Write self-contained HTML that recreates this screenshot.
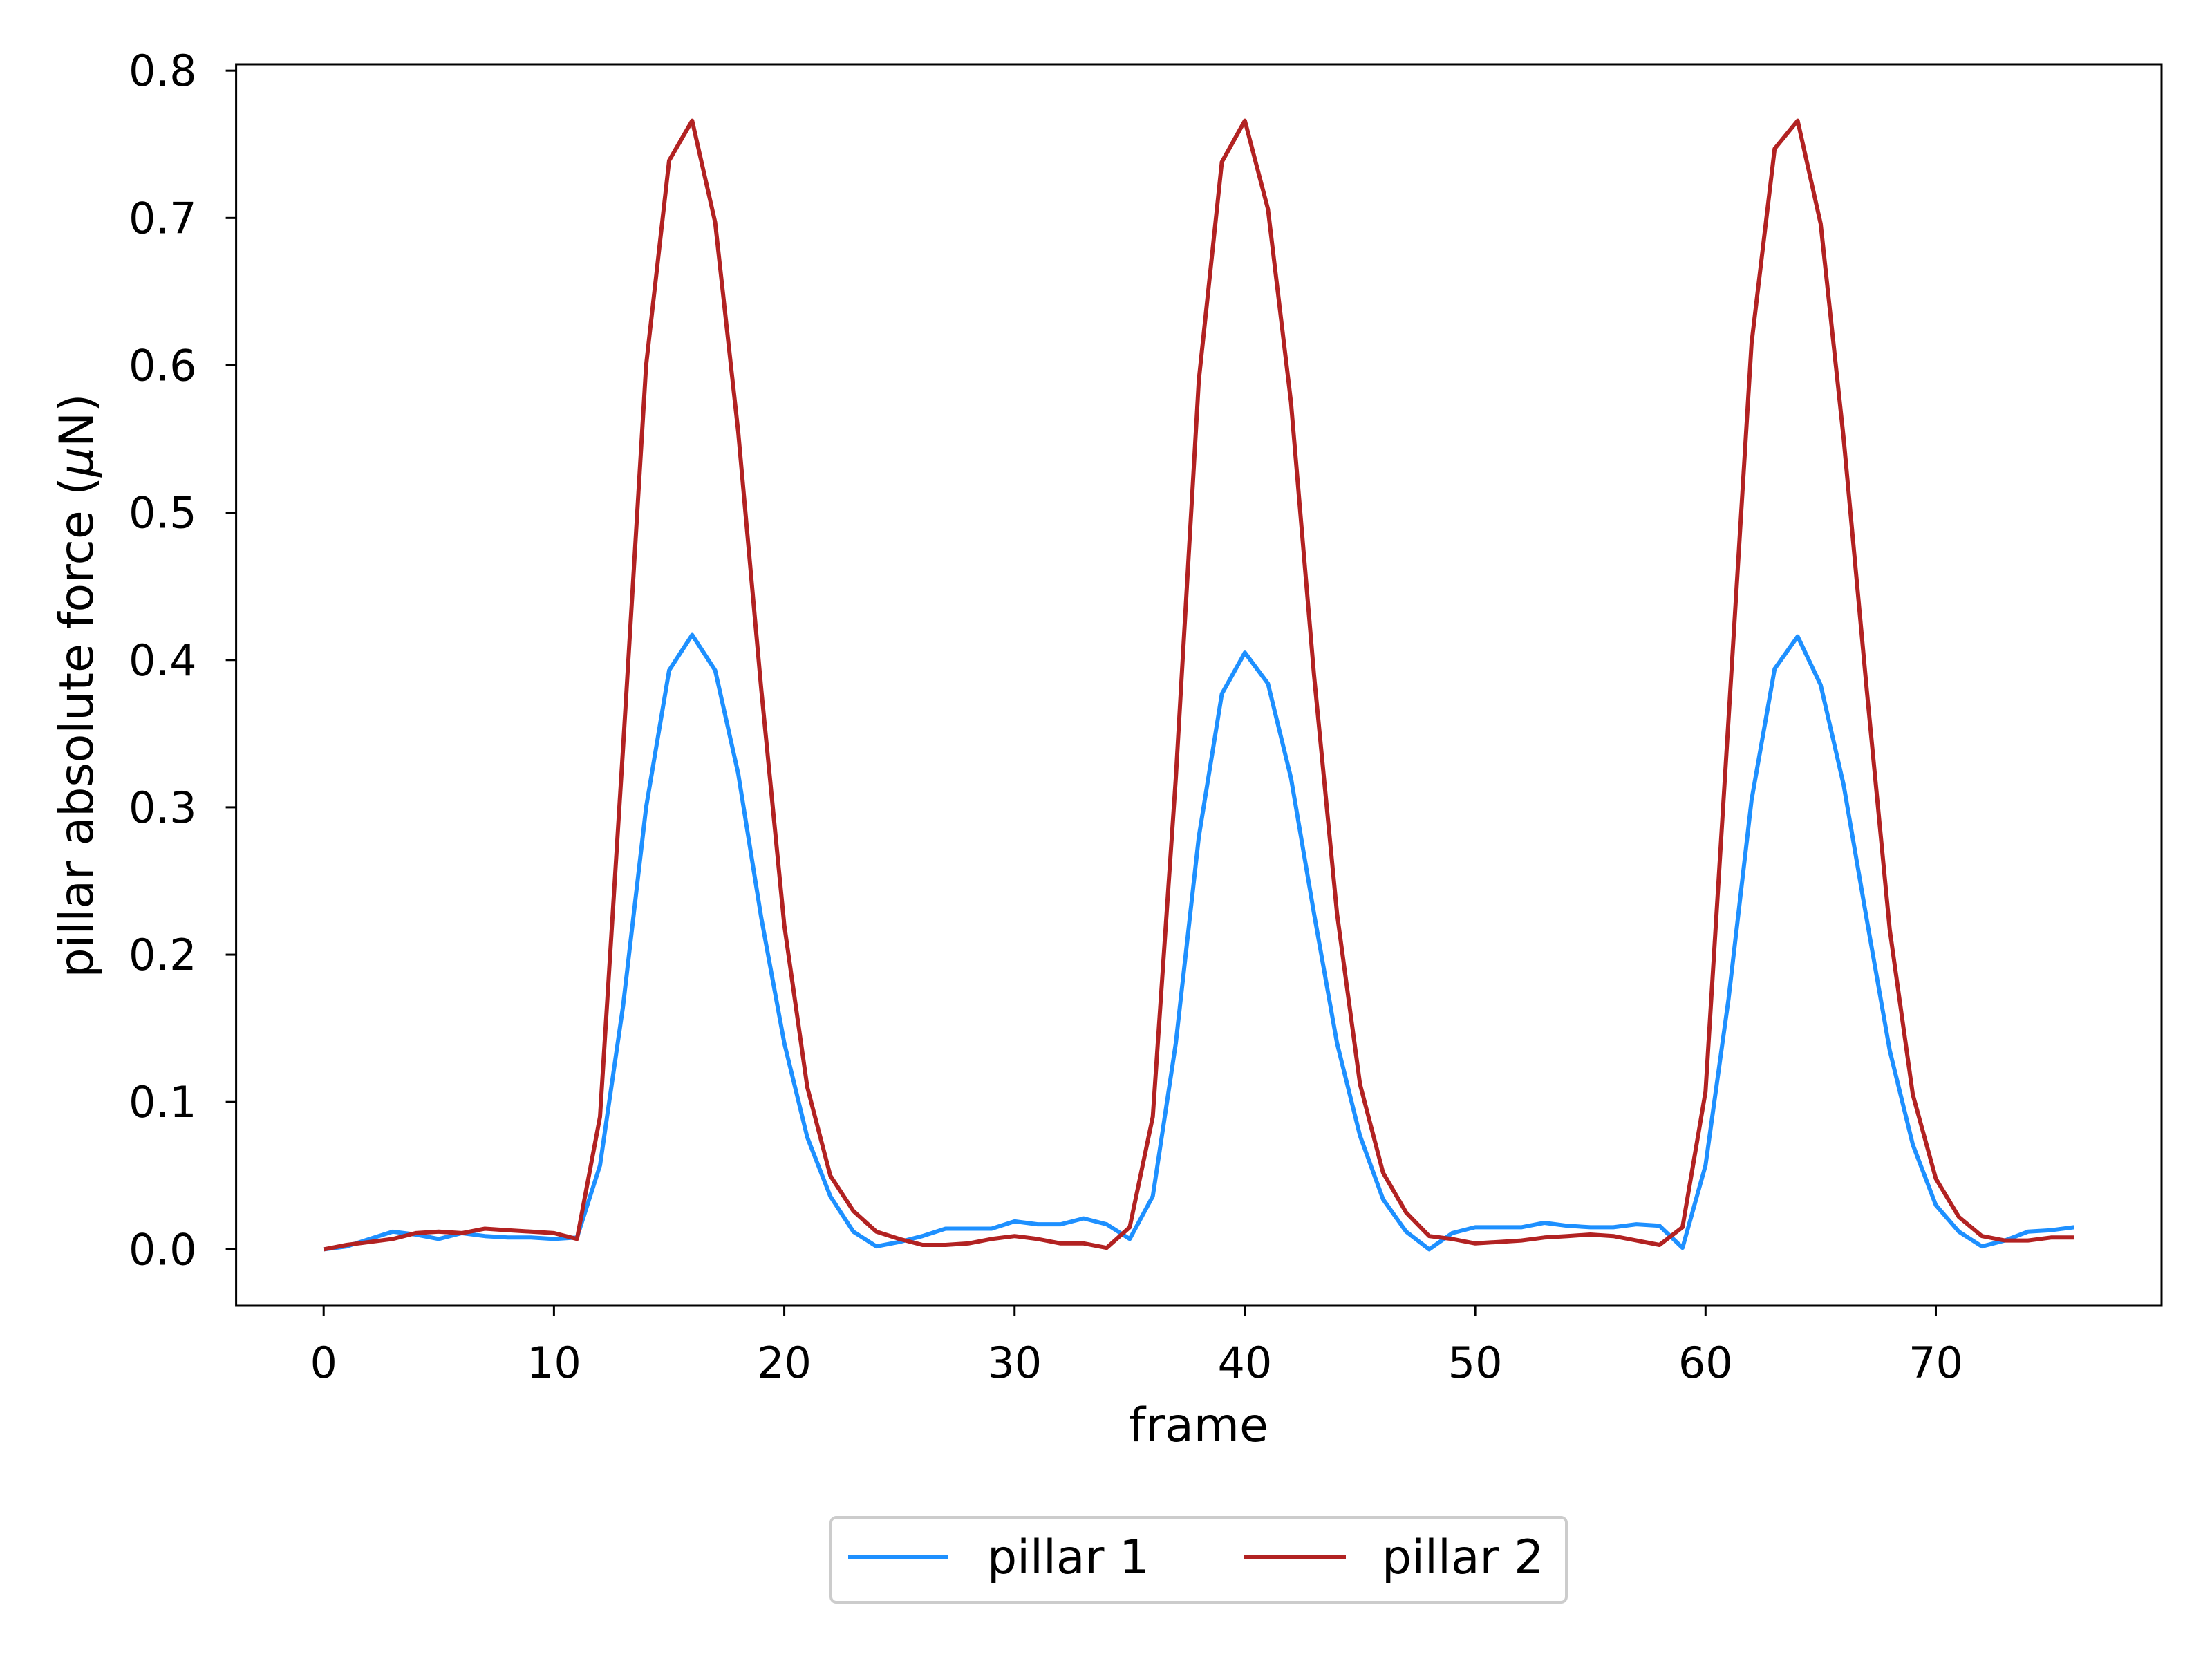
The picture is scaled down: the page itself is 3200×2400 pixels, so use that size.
<!DOCTYPE html>
<html><head><meta charset="utf-8"><style>
html,body{margin:0;padding:0;background:#fff;}
svg{display:block;font-family:"DejaVu Sans","Liberation Sans",sans-serif;}
</style></head><body>
<svg id="chart" width="3200" height="2400" viewBox="0 0 3200 2400">
<rect x="0" y="0" width="3200" height="2400" fill="#fff"/>
<g id="lines"></g>
<rect x="341.6" y="93" width="2785.4" height="1796" fill="none" stroke="#000" stroke-width="3"/>
<g id="xticks"></g>
<g id="yticks"></g>
<text x="1734" y="2085" font-size="68" text-anchor="middle">frame</text>
<text transform="translate(134,992) rotate(-90)" font-size="68" text-anchor="middle">pillar absolute force (<tspan font-style="italic">μ</tspan>N)</text>
<g>
<rect x="1202" y="2195" width="1064" height="123" rx="8" fill="#fff" stroke="#ccc" stroke-width="4"/>
<line x1="1227" y1="2252" x2="1372" y2="2252" stroke="#1e90ff" stroke-width="6"/>
<text x="1428" y="2276" font-size="68">pillar 1</text>
<line x1="1800" y1="2252" x2="1947" y2="2252" stroke="#b22222" stroke-width="6"/>
<text x="1999" y="2276" font-size="68">pillar 2</text>
</g>
</svg>
<script>
const pillar1 = [0,0.002,0.007,0.012,0.010,0.007,0.011,0.009,0.008,0.008,0.007,0.008,0.057,0.165,0.30,0.393,0.417,0.393,0.323,0.225,0.14,0.076,0.036,0.012,0.002,0.005,0.009,0.014,0.014,0.014,0.019,0.017,0.017,0.021,0.017,0.007,0.036,0.14,0.28,0.377,0.405,0.384,0.32,0.228,0.14,0.077,0.034,0.012,0,0.011,0.015,0.015,0.015,0.018,0.016,0.015,0.015,0.017,0.016,0.001,0.057,0.17,0.305,0.394,0.416,0.383,0.315,0.224,0.135,0.071,0.03,0.012,0.002,0.006,0.012,0.013,0.015];
const pillar2 = [0,0.003,0.005,0.007,0.011,0.012,0.011,0.014,0.013,0.012,0.011,0.007,0.09,0.34,0.60,0.739,0.766,0.697,0.555,0.38,0.22,0.11,0.05,0.026,0.012,0.007,0.003,0.003,0.004,0.007,0.009,0.007,0.004,0.004,0.001,0.015,0.09,0.32,0.59,0.738,0.766,0.706,0.575,0.39,0.228,0.112,0.052,0.025,0.009,0.007,0.004,0.005,0.006,0.008,0.009,0.01,0.009,0.006,0.003,0.015,0.107,0.36,0.615,0.747,0.766,0.696,0.55,0.38,0.217,0.105,0.048,0.022,0.009,0.006,0.006,0.008,0.008];
const xTickValues = [0,10,20,30,40,50,60,70];
const yTickValues = [0,0.1,0.2,0.3,0.4,0.5,0.6,0.7,0.8];
const yTickLabels = ["0.0","0.1","0.2","0.3","0.4","0.5","0.6","0.7","0.8"];

const NS = "http://www.w3.org/2000/svg";
const L = 341.6, R = 3127, T = 93, B = 1889;
const n = Math.max(pillar1.length, pillar2.length) - 1;
const xMin = -0.05 * n, xMax = n * 1.05;
const all = pillar1.concat(pillar2);
const dMin = Math.min(...all), dMax = Math.max(...all);
const yMin = dMin - 0.05 * (dMax - dMin), yMax = dMax + 0.05 * (dMax - dMin);
function xs(v){ return L + (v - xMin) / (xMax - xMin) * (R - L); }
function ys(v){ return B - (v - yMin) / (yMax - yMin) * (B - T); }

function drawLine(data, color, name){
  const p = document.createElementNS(NS, "polyline");
  p.setAttribute("points", data.map((v,i)=>xs(i).toFixed(1)+","+ys(v).toFixed(1)).join(" "));
  p.setAttribute("fill","none");
  p.setAttribute("stroke",color);
  p.setAttribute("stroke-width","6");
  p.setAttribute("stroke-linejoin","round");
  
  
  document.getElementById("lines").appendChild(p);
}
drawLine(pillar1, "#1e90ff", "line-pillar-1");
drawLine(pillar2, "#b22222", "line-pillar-2");

const xg = document.getElementById("xticks");
xTickValues.forEach(v=>{
  const x = xs(v);
  const t = document.createElementNS(NS,"line");
  t.setAttribute("x1",x); t.setAttribute("x2",x);
  t.setAttribute("y1",B); t.setAttribute("y2",B+15);
  t.setAttribute("stroke","#000"); t.setAttribute("stroke-width","3");
  
  
  xg.appendChild(t);
  const tx = document.createElementNS(NS,"text");
  tx.setAttribute("x",x); tx.setAttribute("y",1993);
  tx.setAttribute("font-size","62"); tx.setAttribute("text-anchor","middle");
  tx.textContent = String(v);
  
  
  xg.appendChild(tx);
});
const yg = document.getElementById("yticks");
yTickValues.forEach((v,i)=>{
  const y = ys(v);
  const t = document.createElementNS(NS,"line");
  t.setAttribute("x1",L-15); t.setAttribute("x2",L);
  t.setAttribute("y1",y); t.setAttribute("y2",y);
  t.setAttribute("stroke","#000"); t.setAttribute("stroke-width","3");
  
  
  yg.appendChild(t);
  const tx = document.createElementNS(NS,"text");
  tx.setAttribute("x",L-57); tx.setAttribute("y",y+22);
  tx.setAttribute("font-size","62"); tx.setAttribute("text-anchor","end");
  tx.textContent = yTickLabels[i];
  
  
  yg.appendChild(tx);
});
</script>
</body></html>
